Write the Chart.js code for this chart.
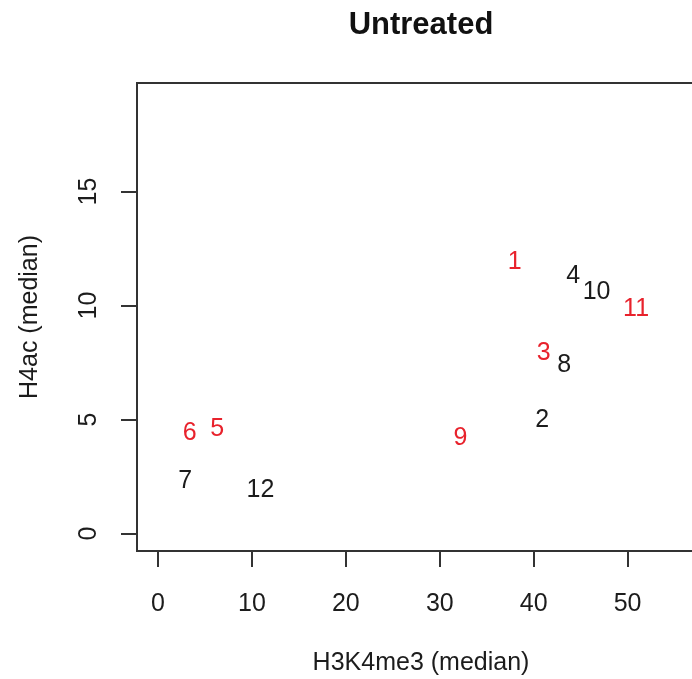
<!DOCTYPE html>
<html>
<head>
<meta charset="utf-8">
<script src="https://cdn.jsdelivr.net/npm/chart.js@4/dist/chart.umd.min.js"></script>
<style>
html,body{margin:0;padding:0;background:#fff;overflow:hidden;}
#wrap{width:720px;height:679px;}
</style>
</head>
<body>
<div id="wrap"><canvas id="c" width="720" height="679"></canvas></div>
<script>
// ---- data ----
const pointIds = ['1','2','3','4','5','6','7','8','9','10','11','12'];
const h3k4me3  = [37.98, 40.9, 41.06, 44.2, 6.31, 3.37, 2.9, 43.26, 32.2, 46.7, 50.9, 10.9];
const h4ac     = [11.92, 4.99, 7.91, 11.3, 4.58, 4.39, 2.31, 7.38, 4.2, 10.6, 9.83, 1.93];
const isRed    = [true, false, true, false, true, true, false, false, true, false, true, false];
const xTickValues = [0, 10, 20, 30, 40, 50];
const yTickValues = [0, 5, 10, 15];
const chartTitle = 'Untreated';
const xTitle = 'H3K4me3 (median)';
const yTitle = 'H4ac (median)';

const FONT = "'Liberation Sans', Arial, Helvetica, sans-serif";
const RED = 'rgb(232,34,44)';
const DARK = '#1c1c1c';

function buildPoints(wantRed) {
  const pts = [], ids = [];
  pointIds.forEach((id, i) => {
    if (isRed[i] === wantRed) { pts.push({x: h3k4me3[i], y: h4ac[i]}); ids.push(id); }
  });
  return {pts, ids};
}
const redSet = buildPoints(true);
const blackSet = buildPoints(false);

const labelPlugin = {
  id: 'pointLabels',
  afterDatasetsDraw(chart) {
    const ctx = chart.ctx;
    ctx.save();
    ctx.font = '25px ' + FONT;
    ctx.textAlign = 'center';
    ctx.textBaseline = 'middle';
    chart.data.datasets.forEach((ds, di) => {
      const meta = chart.getDatasetMeta(di);
      ctx.fillStyle = ds.textColor;
      meta.data.forEach((el, i) => ctx.fillText(ds.ids[i], el.x, el.y));
    });
    ctx.restore();
  }
};
const boxPlugin = {
  id: 'box',
  afterDraw(chart) {
    const {left, top, right, bottom} = chart.chartArea;
    const ctx = chart.ctx;
    ctx.save();
    ctx.strokeStyle = '#333';
    ctx.lineWidth = 2;
    ctx.strokeRect(left, top, right - left, bottom - top);
    ctx.restore();
  }
};

new Chart(document.getElementById('c'), {
  type: 'scatter',
  data: {
    datasets: [
      {data: redSet.pts, ids: redSet.ids, textColor: RED, pointRadius: 0, pointHoverRadius: 0},
      {data: blackSet.pts, ids: blackSet.ids, textColor: DARK, pointRadius: 0, pointHoverRadius: 0}
    ]
  },
  options: {
    responsive: false,
    animation: false,
    events: [],
    layout: {padding: {left: 0, right: 15, top: 0, bottom: 0}},
    plugins: {
      legend: {display: false},
      tooltip: {enabled: false},
      title: {display: false}
    },
    scales: {
      x: {
        type: 'linear', min: -2.24, max: 58.24,
        afterBuildTicks: s => { s.ticks = xTickValues.map(v => ({value: v})); },
        afterFit: s => { s.height = 128; },
        ticks: {font: {family: FONT, size: 25}, color: DARK, padding: 22, maxRotation: 0, autoSkip: false},
        grid: {drawOnChartArea: false, drawTicks: true, tickLength: 16, color: '#333', lineWidth: 2},
        border: {display: false},
        title: {display: true, text: xTitle, color: DARK, font: {family: FONT, size: 25}, padding: {top: 0, bottom: 1}}
      },
      xTop: {
        type: 'linear', position: 'top', min: 0, max: 1,
        afterFit: s => { s.height = 83; },
        ticks: {display: false},
        grid: {display: false},
        border: {display: false},
        title: {display: true, text: chartTitle, color: '#111', font: {family: FONT, size: 31, weight: 'bold'}, padding: {top: 7, bottom: 0}}
      },
      y: {
        type: 'linear', min: -0.76, max: 19.76,
        afterBuildTicks: s => { s.ticks = yTickValues.map(v => ({value: v})); },
        afterFit: s => { s.width = 137; },
        ticks: {font: {family: FONT, size: 25}, color: DARK, padding: 18, minRotation: 90, maxRotation: 90, crossAlign: 'center', autoSkip: false},
        grid: {drawOnChartArea: false, drawTicks: true, tickLength: 16, color: '#333', lineWidth: 2},
        border: {display: false},
        title: {display: true, text: yTitle, color: DARK, font: {family: FONT, size: 25}, padding: {top: 15, bottom: 0}}
      }
    }
  },
  plugins: [labelPlugin, boxPlugin]
});
</script>
</body>
</html>
